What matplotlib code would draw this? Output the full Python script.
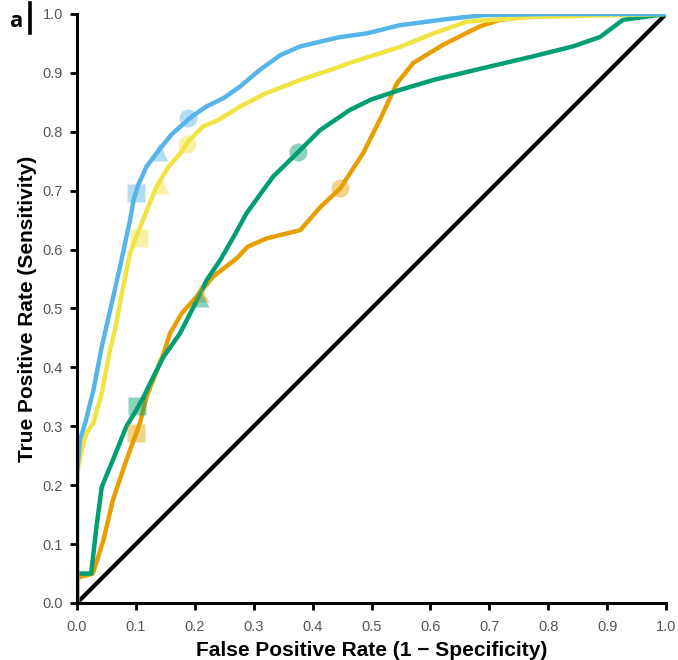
import matplotlib
matplotlib.use("Agg")
import matplotlib.pyplot as plt
from matplotlib.lines import Line2D

# ROC curves
BLUE_FPR = [0, 0.0, 0.002, 0.005, 0.014, 0.028, 0.042, 0.059, 0.075, 0.09, 0.096,
            0.104, 0.118, 0.14, 0.16, 0.19, 0.205, 0.22, 0.25, 0.277, 0.31, 0.345, 0.379,
            0.447, 0.492, 0.548, 0.633, 0.69, 0.8, 1.0]
BLUE_TPR = [0, 0.22, 0.243, 0.277, 0.306, 0.362, 0.435, 0.509, 0.58, 0.65, 0.684,
            0.71, 0.741, 0.77, 0.795, 0.822, 0.833, 0.843, 0.858, 0.877, 0.905, 0.93, 0.945,
            0.961, 0.967, 0.981, 0.992, 0.998, 1.0, 1.0]

YELLOW_FPR = [0, 0.0, 0.002, 0.008, 0.016, 0.028, 0.042, 0.056, 0.0645, 0.075, 0.09, 0.106,
              0.12, 0.135, 0.155, 0.175, 0.19, 0.214, 0.24, 0.277, 0.32, 0.379, 0.447, 0.463,
              0.548, 0.605, 0.662, 0.774, 1.0]
YELLOW_TPR = [0, 0.20, 0.231, 0.26, 0.288, 0.306, 0.356, 0.43, 0.463, 0.52, 0.594, 0.635,
              0.67, 0.707, 0.74, 0.763, 0.785, 0.809, 0.82, 0.843, 0.865, 0.888, 0.911, 0.917,
              0.944, 0.967, 0.987, 0.995, 1.0]

GREEN_FPR = [0, 0.0, 0.024, 0.033, 0.042, 0.061, 0.084, 0.101, 0.113, 0.13, 0.147, 0.175,
             0.198, 0.22, 0.243, 0.265, 0.288, 0.333, 0.376, 0.413, 0.447, 0.463,
             0.5, 0.548, 0.605, 0.689, 0.774, 0.842, 0.888, 0.927, 1.0]
GREEN_TPR = [0, 0.05, 0.05, 0.129, 0.197, 0.243, 0.3, 0.328, 0.35, 0.385, 0.418, 0.458,
             0.503, 0.548, 0.582, 0.62, 0.662, 0.724, 0.766, 0.803, 0.826, 0.837,
             0.855, 0.871, 0.888, 0.908, 0.928, 0.945, 0.961, 0.99, 1.0]

ORANGE_FPR = [0, 0.0, 0.005, 0.027, 0.045, 0.061, 0.084, 0.107, 0.118, 0.147, 0.158, 0.178,
              0.203, 0.231, 0.271, 0.29, 0.322, 0.379, 0.413, 0.447, 0.486, 0.514, 0.543,
              0.571, 0.622, 0.684, 0.718, 0.8, 1.0]
ORANGE_TPR = [0, 0.04, 0.044, 0.05, 0.107, 0.175, 0.243, 0.306, 0.35, 0.424, 0.458, 0.492,
              0.52, 0.554, 0.585, 0.605, 0.619, 0.633, 0.672, 0.704, 0.764, 0.82, 0.882,
              0.917, 0.948, 0.979, 0.99, 1.0, 1.0]

# operating points: circle, triangle, square for each curve
BLUE_PTS = [(0.188, 0.824), (0.14, 0.766), (0.1, 0.696)]
YELLOW_PTS = [(0.187, 0.78), (0.141, 0.71), (0.106, 0.619)]
GREEN_PTS = [(0.376, 0.766), (0.208, 0.517), (0.101, 0.334)]
ORANGE_PTS = [(0.446, 0.704), (0.209, 0.526), (0.1, 0.289)]
MARKERS = ["o", "^", "s"]

TICKS = [i / 10 for i in range(11)]
TICK_LABELS = ["%.1f" % t for t in TICKS]

BLUE = "#56B4E9"
YELLOW = "#F0E442"
GREEN = "#009E73"
ORANGE = "#E69F00"

plt.rcParams["font.family"] = ["Liberation Sans", "DejaVu Sans"]

fig = plt.figure(figsize=(6.78, 6.6), dpi=100)
ax = fig.add_axes([0.1136, 0.0864, 0.8687, 0.8924])

ax.plot([0, 1], [0, 1], color="black", lw=3.0, solid_capstyle="butt", zorder=1)

curves = [
    (ORANGE_FPR, ORANGE_TPR, ORANGE, ORANGE_PTS),
    (GREEN_FPR, GREEN_TPR, GREEN, GREEN_PTS),
    (YELLOW_FPR, YELLOW_TPR, YELLOW, YELLOW_PTS),
    (BLUE_FPR, BLUE_TPR, BLUE, BLUE_PTS),
]
for fpr, tpr, col, pts in curves:
    ax.plot(fpr, tpr, color=col, lw=3.2, solid_joinstyle="round", zorder=2)
for fpr, tpr, col, pts in curves:
    for (px, py), m in zip(pts, MARKERS):
        ax.plot(px, py, marker=m, ms=13, color=col, alpha=0.45, mec="none",
                ls="none", zorder=3)

ax.set_xlim(0, 1)
ax.set_ylim(0, 1)
ax.set_xticks(TICKS)
ax.set_xticklabels(TICK_LABELS)
ax.set_yticks(TICKS)
ax.set_yticklabels(TICK_LABELS)

for side in ["top", "right"]:
    ax.spines[side].set_visible(False)
for side in ["left", "bottom"]:
    ax.spines[side].set_linewidth(2.2)
ax.tick_params(length=5, width=2.0, labelsize=10.5, labelcolor="#555555")
ax.tick_params(axis="x", pad=7)
ax.tick_params(axis="y", pad=5)

ax.set_xlabel("False Positive Rate (1 \u2212 Specificity)", fontsize=15,
              fontweight="bold", labelpad=5)
ax.set_ylabel("True Positive Rate (Sensitivity)", fontsize=15,
              fontweight="bold", labelpad=4)

fig.text(0.013, 0.983, "a", fontsize=16, fontweight="bold", va="top",
         family=["Open Sans", "DejaVu Sans"])
fig.add_artist(Line2D([0.044, 0.044], [0.95, 0.995], color="black", lw=2.6,
                      transform=fig.transFigure))

fig.savefig("out.png", dpi=100)
